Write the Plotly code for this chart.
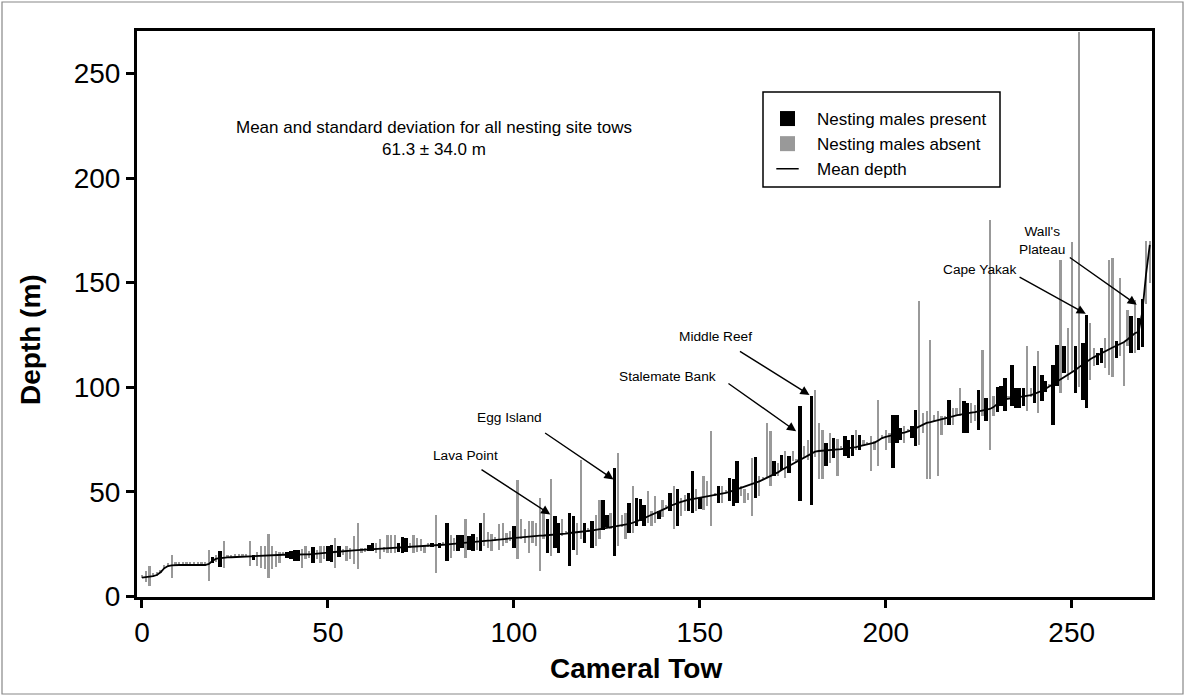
import plotly.graph_objects as go

# Tow numbers 0..271
TOWS = list(range(272))

# Mean depth (sorted) per tow
MEAN = [
    9.0, 9.2, 9.4, 9.7, 10.2, 11.5, 13.5, 14.5, 14.8, 15.0,
    15.0, 15.0, 15.0, 15.0, 15.0, 15.0, 15.0, 15.0, 15.5, 17.0,
    18.0, 18.3, 18.5, 18.6, 18.7, 18.8, 18.9, 19.0, 19.0, 19.2,
    19.4, 19.5, 19.6, 19.7, 19.7, 19.8, 19.8, 19.9, 19.9, 19.9,
    20.0, 20.0, 20.0, 20.0, 20.1, 20.1, 20.2, 20.3, 20.5, 20.7,
    20.9, 21.1, 21.3, 21.5, 21.6, 21.8, 21.9, 22.0, 22.1, 22.2,
    22.3, 22.4, 22.5, 22.6, 22.7, 22.8, 22.9, 23.0, 23.1, 23.2,
    23.3, 23.4, 23.5, 23.6, 23.8, 23.9, 24.0, 24.1, 24.3, 24.4,
    24.5, 24.7, 24.8, 25.0, 25.2, 25.4, 25.6, 25.8, 26.0, 26.2,
    26.4, 26.5, 26.6, 26.7, 26.8, 26.9, 27.1, 27.3, 27.5, 27.7,
    27.9, 28.1, 28.3, 28.4, 28.6, 28.7, 28.9, 29.0, 29.1, 29.2,
    29.4, 29.5, 29.6, 29.8, 30.0, 30.3, 30.6, 30.8, 30.9, 31.1,
    31.2, 31.5, 31.8, 32.1, 32.4, 32.7, 33.0, 33.3, 33.7, 34.0,
    34.3, 34.7, 35.2, 35.8, 36.5, 37.3, 38.2, 39.0, 39.8, 40.3,
    41.2, 42.2, 43.2, 44.0, 44.6, 45.2, 45.8, 46.2, 46.5, 46.8,
    47.1, 47.4, 47.7, 48.0, 48.3, 48.7, 49.1, 49.5, 50.0, 50.6,
    51.2, 51.9, 52.5, 53.0, 53.6, 54.3, 55.0, 55.8, 56.6, 57.4,
    58.3, 59.3, 60.4, 61.4, 62.4, 63.5, 64.6, 65.4, 66.2, 67.3,
    68.4, 69.2, 69.5, 69.6, 69.7, 69.8, 70.0, 70.2, 70.4, 70.6,
    70.8, 71.1, 71.4, 71.8, 72.2, 72.6, 73.0, 73.5, 74.5, 75.7,
    76.3, 76.8, 77.2, 77.6, 78.0, 78.3, 78.8, 79.5, 80.3, 81.2,
    82.1, 82.9, 83.3, 83.7, 84.1, 84.5, 85.0, 85.5, 86.0, 86.5,
    86.9, 87.2, 87.5, 87.8, 88.1, 88.4, 88.8, 89.2, 89.6, 90.5,
    92.0, 93.5, 94.2, 94.6, 94.8, 95.0, 95.3, 95.5, 95.8, 96.2,
    96.8, 97.4, 98.3, 99.3, 100.4, 101.6, 102.8, 103.9, 104.9, 105.9,
    106.8, 108.2, 109.6, 111.0, 112.4, 113.4, 114.4, 115.4, 116.3, 117.2,
    118.1, 119.0, 119.8, 120.5, 121.5, 122.8, 124.4, 125.8, 126.5, 136.0,
    154.0, 168.0,
]

# Minimum depth seen on each tow
LOW = [
    8.7, 7.0, 4.8, 9.4, 9.9, 11.2, 13.2, 14.2, 8.6, 14.7,
    14.7, 14.7, 14.7, 14.7, 14.7, 14.7, 14.7, 14.7, 7.2, 16.0,
    16.5, 14.2, 13.7, 18.3, 18.4, 18.5, 18.6, 18.7, 18.7, 14.3,
    17.3, 14.5, 13.7, 12.9, 9.0, 13.0, 14.0, 16.0, 19.6, 18.5,
    18.0, 17.0, 17.0, 13.4, 17.7, 18.5, 15.8, 17.7, 16.0, 17.7,
    17.0, 16.3, 13.7, 18.6, 20.0, 17.0, 17.7, 15.3, 13.0, 20.5,
    21.0, 21.5, 21.5, 20.8, 17.7, 21.3, 20.5, 20.5, 20.5, 21.3,
    20.5, 21.3, 23.0, 20.5, 21.3, 21.9, 20.8, 23.8, 23.8, 11.3,
    23.2, 24.4, 17.0, 18.5, 21.9, 21.9, 23.2, 18.5, 22.4, 21.6,
    22.0, 21.6, 24.0, 23.0, 21.6, 26.6, 22.4, 24.0, 25.6, 26.4,
    23.2, 17.7, 27.2, 25.6, 20.8, 25.6, 24.0, 12.1, 27.2, 20.8,
    19.3, 23.2, 20.8, 29.0, 29.7, 14.5, 22.4, 19.8, 27.2, 25.6,
    30.9, 23.2, 24.0, 27.2, 31.8, 33.0, 32.0, 19.2, 24.0, 33.0,
    27.2, 30.4, 30.4, 33.6, 36.0, 33.6, 35.2, 33.6, 35.2, 36.8,
    38.0, 41.9, 40.8, 32.0, 33.6, 38.4, 40.8, 40.8, 39.9, 40.8,
    41.8, 41.5, 43.1, 33.6, 48.0, 44.7, 44.7, 49.2, 45.5, 43.1,
    44.7, 48.0, 44.7, 46.3, 38.4, 47.1, 48.0, 55.5, 56.6, 52.7,
    57.5, 57.5, 60.6, 56.6, 59.0, 64.6, 64.3, 45.5, 66.2, 65.4,
    43.5, 66.6, 55.9, 55.9, 62.2, 63.8, 66.0, 57.5, 70.1, 66.9,
    66.0, 66.9, 70.2, 70.2, 71.8, 72.3, 59.8, 70.2, 62.2, 75.4,
    70.2, 73.4, 61.4, 73.4, 74.9, 73.4, 78.5, 75.7, 71.8, 72.6,
    78.2, 55.9, 55.9, 83.7, 57.5, 77.3, 82.1, 82.1, 82.1, 86.9,
    86.1, 78.2, 78.2, 82.9, 83.7, 79.7, 86.0, 83.7, 70.0, 86.0,
    88.0, 90.9, 88.5, 94.3, 90.9, 89.9, 89.9, 90.9, 88.5, 95.5,
    92.5, 87.7, 93.3, 97.7, 100.1, 82.1, 100.4, 97.3, 106.8, 103.4,
    107.4, 97.3, 100.0, 94.0, 90.3, 103.6, 110.1, 110.8, 111.5, 109.3,
    106.0, 105.0, 114.0, 114.8, 100.4, 119.6, 116.3, 116.3, 118.0, 119.0,
    140.0, 150.0,
]

# Maximum depth seen on each tow
HIGH = [
    10.3, 12.0, 14.3, 11.0, 11.5, 12.8, 14.8, 15.8, 19.6, 16.3,
    16.3, 16.3, 16.3, 16.3, 16.3, 16.3, 16.3, 16.3, 22.4, 19.0,
    20.0, 21.6, 26.4, 19.9, 20.0, 20.1, 20.2, 20.3, 20.3, 26.7,
    20.0, 21.0, 24.0, 24.0, 30.0, 24.0, 21.6, 21.0, 21.2, 21.0,
    21.5, 22.0, 22.0, 22.7, 24.0, 21.5, 23.7, 22.4, 24.0, 24.3,
    24.3, 24.8, 27.8, 24.0, 22.5, 24.0, 23.2, 28.8, 35.0, 23.0,
    23.3, 24.5, 25.6, 25.4, 27.2, 23.5, 29.4, 29.4, 29.4, 25.6,
    28.5, 27.7, 25.4, 29.4, 27.8, 27.2, 24.8, 25.4, 25.4, 38.7,
    25.4, 26.0, 35.0, 29.4, 28.1, 29.4, 29.4, 36.8, 28.7, 29.7,
    28.5, 35.0, 40.0, 31.0, 30.0, 28.2, 34.4, 35.2, 30.4, 31.2,
    33.6, 55.8, 37.0, 32.0, 36.0, 36.0, 35.2, 47.1, 39.9, 36.8,
    55.9, 38.4, 35.2, 36.8, 31.3, 39.9, 38.4, 34.9, 65.4, 35.2,
    32.5, 36.0, 39.0, 46.3, 45.9, 39.0, 40.0, 61.4, 68.6, 38.7,
    40.1, 44.7, 52.7, 47.1, 46.4, 43.9, 50.3, 40.8, 48.0, 40.8,
    46.0, 43.5, 49.5, 52.7, 51.1, 47.1, 48.7, 49.5, 59.8, 51.1,
    47.1, 57.5, 55.0, 78.9, 49.6, 52.7, 52.7, 50.8, 56.6, 56.0,
    64.6, 52.7, 51.1, 49.5, 66.3, 66.8, 57.5, 57.1, 83.0, 79.1,
    64.6, 63.8, 67.8, 69.4, 67.0, 69.4, 65.9, 90.9, 71.7, 74.9,
    95.6, 98.8, 82.9, 79.7, 73.4, 78.2, 75.7, 75.1, 71.7, 76.5,
    74.9, 77.3, 79.7, 77.3, 75.0, 73.9, 76.5, 74.1, 94.1, 77.0,
    79.7, 78.2, 86.9, 86.9, 80.5, 81.3, 80.1, 81.3, 89.3, 141.0,
    87.7, 88.5, 122.7, 86.9, 88.5, 86.1, 86.1, 94.1, 90.1, 90.1,
    99.6, 93.3, 92.5, 92.5, 91.7, 98.8, 118.0, 94.9, 180.0, 96.0,
    100.0, 100.4, 104.4, 95.9, 110.8, 99.4, 99.4, 99.4, 119.5, 99.4,
    110.0, 117.1, 106.0, 103.2, 101.7, 110.8, 120.3, 160.9, 119.5, 128.3,
    169.6, 119.5, 270.0, 121.1, 134.4, 130.7, 118.9, 116.3, 118.7, 123.6,
    161.0, 162.0, 122.0, 152.2, 121.5, 137.1, 134.0, 141.8, 133.2, 142.0,
    170.0, 170.0,
]

# 1 = nesting males present, 0 = absent
PRESENT = [
    0, 0, 0, 0, 0, 0, 0, 0, 0, 0,
    0, 0, 0, 0, 0, 0, 0, 0, 0, 1,
    0, 1, 0, 0, 0, 0, 0, 0, 0, 0,
    1, 0, 0, 0, 0, 0, 0, 0, 0, 1,
    1, 1, 1, 0, 0, 0, 1, 0, 0, 0,
    1, 1, 0, 1, 0, 0, 0, 0, 0, 0,
    0, 1, 1, 0, 0, 0, 0, 0, 0, 1,
    1, 1, 0, 0, 0, 0, 0, 0, 1, 0,
    1, 0, 1, 0, 0, 1, 1, 0, 1, 1,
    0, 1, 0, 0, 0, 0, 0, 0, 0, 0,
    1, 0, 0, 0, 0, 0, 0, 0, 0, 1,
    0, 1, 1, 0, 0, 1, 1, 0, 0, 1,
    0, 1, 0, 0, 1, 1, 0, 1, 0, 0,
    0, 1, 0, 1, 1, 1, 0, 0, 0, 1,
    0, 0, 1, 0, 1, 0, 0, 1, 1, 0,
    1, 0, 0, 0, 0, 1, 0, 0, 1, 1,
    1, 0, 0, 0, 0, 1, 0, 0, 0, 0,
    1, 0, 1, 0, 1, 0, 0, 1, 0, 0,
    1, 0, 0, 0, 1, 0, 1, 0, 0, 1,
    1, 1, 0, 1, 0, 0, 0, 0, 0, 0,
    0, 0, 1, 1, 1, 0, 0, 1, 1, 0,
    0, 0, 0, 0, 0, 0, 0, 1, 0, 0,
    0, 1, 1, 0, 0, 1, 0, 1, 0, 0,
    1, 1, 1, 0, 1, 1, 1, 1, 0, 0,
    1, 0, 1, 1, 0, 1, 1, 0, 1, 0,
    0, 1, 0, 1, 1, 0, 0, 1, 1, 0,
    0, 0, 1, 0, 0, 0, 1, 0, 1, 1,
    0, 0,
]

SITE_LABELS = ["Lava Point", "Egg Island", "Stalemate Bank", "Middle Reef", "Cape Yakak", "Wall's<br>Plateau"]
SITE_TEXT_X = [86.9, 98.7, 141.3, 154.2, 225.2, 241.9]
SITE_TEXT_Y = [67.3, 85.6, 104.9, 124.3, 156.2, 170.0]
SITE_TAIL_X = [90.9, 108.0, 157.3, 160.4, 235.6, 249.1]
SITE_TAIL_Y = [61.1, 78.6, 102.3, 117.6, 153.0, 162.5]
SITE_TIP_X = [109.8, 126.8, 175.9, 179.5, 253.8, 267.5]
SITE_TIP_Y = [39.2, 55.9, 78.9, 96.3, 135.1, 139.4]

FONT = "Liberation Sans, Arial, sans-serif"

# plot-area geometry in pixels
L, R, T, B = 137, 1152, 31, 597
PW, PH = R - L, B - T


def px(x):
    return (x - L) / PW


def py(y):
    return (B - y) / PH


abs_x = [t for t, p in zip(TOWS, PRESENT) if p == 0]
abs_lo = [l for l, p in zip(LOW, PRESENT) if p == 0]
abs_h = [h - l for l, h, p in zip(LOW, HIGH, PRESENT) if p == 0]
pre_x = [t for t, p in zip(TOWS, PRESENT) if p == 1]
pre_lo = [l for l, p in zip(LOW, PRESENT) if p == 1]
pre_h = [h - l for l, h, p in zip(LOW, HIGH, PRESENT) if p == 1]

fig = go.Figure()
fig.add_trace(go.Bar(x=abs_x, y=abs_h, base=abs_lo, width=0.6,
                     marker=dict(color="#999999", line=dict(width=0)),
                     name="Nesting males absent", showlegend=False))
fig.add_trace(go.Bar(x=pre_x, y=pre_h, base=pre_lo, width=0.95,
                     marker=dict(color="#000000", line=dict(width=0)),
                     name="Nesting males present", showlegend=False))
fig.add_trace(go.Scatter(x=TOWS, y=MEAN, mode="lines",
                         line=dict(color="black", width=1.8),
                         name="Mean depth", showlegend=False))
# legend keys
fig.add_trace(go.Scatter(x=[None], y=[None], mode="markers",
                         marker=dict(symbol="square", size=15, color="#000000"),
                         name="Nesting males present", legendrank=1))
fig.add_trace(go.Scatter(x=[None], y=[None], mode="markers",
                         marker=dict(symbol="square", size=15, color="#999999"),
                         name="Nesting males absent", legendrank=2))
fig.add_trace(go.Scatter(x=[None], y=[None], mode="markers",
                         marker=dict(symbol="line-ew", size=22, color="black",
                                     line=dict(color="black", width=1.5)),
                         name="Mean depth", legendrank=3))

annotations = []
for lab, tx, ty, ax, ay, x, y in zip(SITE_LABELS, SITE_TEXT_X, SITE_TEXT_Y,
                                     SITE_TAIL_X, SITE_TAIL_Y, SITE_TIP_X, SITE_TIP_Y):
    annotations.append(dict(x=tx, y=ty, xref="x", yref="y", text=lab, showarrow=False,
                            xanchor="center", yanchor="middle",
                            font=dict(size=13.7, color="black", family=FONT)))
    annotations.append(dict(x=x, y=y, ax=ax, ay=ay, xref="x", yref="y", axref="x", ayref="y",
                            text="", showarrow=True, arrowhead=2, arrowsize=1.3,
                            arrowwidth=1.4, arrowcolor="black", standoff=0, startstandoff=0))

annotations.append(dict(x=78.6, y=218.7, xref="x", yref="y",
                        text="Mean and standard deviation for all nesting site tows<br>61.3 ± 34.0 m",
                        showarrow=False, align="center", xanchor="center", yanchor="middle",
                        font=dict(size=17, color="black", family=FONT)))
annotations.append(dict(x=px(636), y=py(668), xref="paper", yref="paper",
                        text="<b>Cameral Tow</b>", showarrow=False,
                        xanchor="center", yanchor="middle",
                        font=dict(size=28, color="black", family=FONT)))
annotations.append(dict(x=px(30), y=py(340), xref="paper", yref="paper",
                        text="<b>Depth (m)</b>", showarrow=False, textangle=-90,
                        xanchor="center", yanchor="middle",
                        font=dict(size=28, color="black", family=FONT)))

axis_common = dict(showline=True, mirror=True, linewidth=3, linecolor="black",
                   ticks="outside", ticklen=8, tickwidth=2.5, tickcolor="black",
                   showgrid=False, zeroline=False,
                   tickfont=dict(size=28, color="black", family=FONT))

fig.update_layout(
    width=1185, height=696,
    margin=dict(l=L, r=1185 - R, t=T, b=696 - B),
    paper_bgcolor="white", plot_bgcolor="white",
    barmode="overlay", bargap=0,
    font=dict(family=FONT, color="black"),
    xaxis=dict(range=[-1.34, 271.6], tickvals=[0, 50, 100, 150, 200, 250], **axis_common),
    yaxis=dict(range=[-0.3, 270.3], tickvals=[0, 50, 100, 150, 200, 250], **axis_common),
    legend=dict(x=px(758), y=py(101), xanchor="left", yanchor="top",
                borderwidth=0, bgcolor="rgba(0,0,0,0)", itemwidth=49,
                font=dict(size=17, color="black", family=FONT), tracegroupgap=0),
    showlegend=True,
    annotations=annotations,
    shapes=[
        dict(type="rect", xref="paper", yref="paper", x0=px(2), x1=px(1183),
             y0=py(694), y1=py(2), line=dict(color="#888888", width=1.2),
             fillcolor="rgba(0,0,0,0)", layer="below"),
        dict(type="rect", xref="paper", yref="paper", x0=px(763), x1=px(1000),
             y0=py(187), y1=py(92), line=dict(color="black", width=1.5),
             fillcolor="rgba(0,0,0,0)", layer="above"),
    ],
)

fig.write_html("out.html", config={"displayModeBar": False},
               post_script="document.body.style.margin='0px';")
